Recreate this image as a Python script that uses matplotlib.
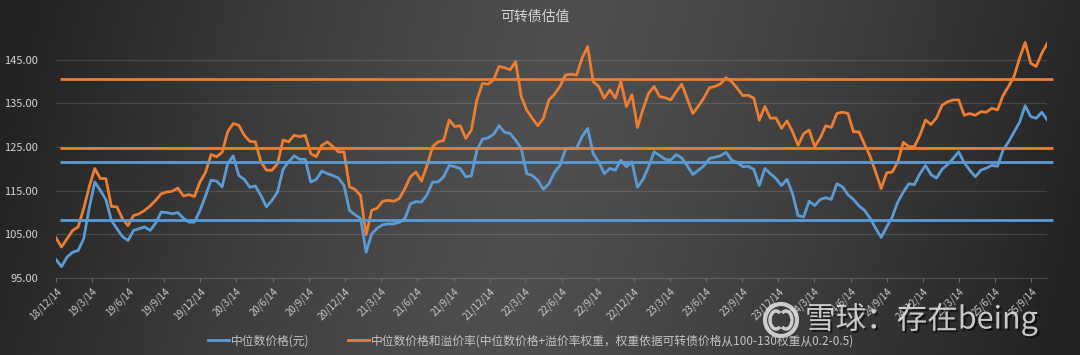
import numpy as np
import pandas as pd
import matplotlib
matplotlib.use("Agg")
import matplotlib.pyplot as plt
from matplotlib.patches import Circle, Arc
import matplotlib.patheffects as pe
from datetime import datetime

plt.rcParams['font.family'] = ['Noto Sans CJK SC', 'DejaVu Sans']

# ---------------- data ----------------
title = "可转债估值"
series_names = ["中位数价格(元)",
                "中位数价格和溢价率(中位数价格+溢价率权重，权重依据可转债价格从100-130权重从0.2-0.5)"]
start_date = "2018-12-14"
step_days = 14

median_price = [
    99.2, 97.6, 99.8, 100.9, 101.3, 104.0, 111.0, 117.0, 115.1, 113.0,
    108.2, 106.3, 104.5, 103.6, 105.9, 106.3, 106.7, 105.9, 107.6, 110.1,
    110.0, 109.7, 110.0, 108.7, 107.8, 107.8, 110.5, 113.8, 117.4, 117.2,
    115.9, 121.2, 123.0, 118.5, 117.6, 115.8, 116.1, 113.9, 111.3, 112.8,
    114.7, 119.9, 121.6, 123.0, 122.2, 122.2, 117.0, 117.6, 119.5, 118.9,
    118.5, 117.9, 116.2, 110.5, 109.5, 108.6, 100.9, 105.1, 106.4, 107.2,
    107.4, 107.4, 107.8, 108.6, 112.0, 112.5, 112.4, 114.1, 117.0, 117.0,
    118.2, 120.8, 120.5, 120.1, 118.2, 118.4, 124.3, 126.8, 127.1, 127.9,
    129.9, 128.4, 128.1, 126.6, 124.7, 118.9, 118.5, 117.4, 115.3, 116.6,
    119.2, 120.8, 124.5, 124.8, 124.7, 127.4, 129.3, 123.5, 121.6, 118.9,
    120.1, 119.7, 122.0, 120.5, 121.6, 115.8, 117.6, 120.5, 123.9, 123.1,
    122.2, 122.0, 123.3, 122.5, 120.7, 118.7, 119.7, 120.7, 122.4, 122.7,
    123.0, 123.8, 122.0, 121.5, 120.5, 120.6, 119.9, 116.2, 120.1, 118.9,
    117.8, 116.2, 117.6, 114.3, 109.3, 109.0, 112.6, 111.6, 113.0, 113.4,
    113.0, 116.6, 115.9, 114.1, 113.0, 111.5, 110.5, 108.7, 106.4, 104.3,
    106.7, 109.0, 112.4, 114.7, 116.6, 116.4, 118.9, 120.8, 118.7, 117.9,
    119.9, 121.0, 122.4, 123.9, 121.4, 119.7, 118.2, 119.7, 120.2, 120.8,
    120.6, 124.3, 126.2, 128.5, 130.7, 134.5, 132.0, 131.6, 133.0, 131.2,
]

price_premium = [
    104.2, 102.1, 104.0, 105.9, 106.7, 110.9, 115.9, 120.1, 117.8, 117.8,
    111.4, 111.3, 108.6, 107.0, 109.3, 109.7, 110.5, 111.5, 112.8, 114.3,
    114.7, 114.9, 115.6, 113.8, 114.1, 113.7, 117.0, 119.2, 123.3, 122.8,
    123.8, 128.5, 130.4, 130.0, 127.7, 126.3, 126.2, 121.6, 119.7, 119.7,
    121.2, 126.6, 126.2, 127.7, 127.4, 127.7, 123.5, 122.8, 125.4, 126.2,
    125.1, 123.9, 123.9, 115.9, 115.3, 113.9, 104.9, 110.5, 111.0, 112.6,
    112.8, 112.6, 113.2, 115.5, 118.2, 119.3, 117.2, 120.8, 125.1, 126.2,
    126.5, 131.2, 129.7, 129.9, 127.0, 128.9, 135.8, 139.6, 139.4, 140.4,
    143.5, 143.2, 142.7, 144.6, 136.6, 133.5, 131.6, 129.9, 131.6, 135.8,
    137.1, 138.9, 141.5, 141.7, 141.5, 145.4, 148.0, 140.0, 138.9, 136.2,
    138.1, 136.2, 140.0, 134.3, 137.0, 129.5, 133.7, 137.3, 138.9, 136.6,
    136.3, 135.8, 137.7, 139.4, 136.0, 132.7, 134.4, 136.3, 138.6, 138.9,
    139.5, 140.9, 140.0, 138.5, 136.8, 136.9, 136.2, 131.2, 134.3, 131.6,
    131.7, 129.3, 131.0, 128.5, 125.4, 128.1, 128.9, 125.1, 127.1, 129.9,
    129.5, 132.7, 133.0, 132.7, 128.5, 128.5, 125.6, 122.9, 119.3, 115.5,
    119.1, 119.3, 121.6, 126.1, 125.1, 125.1, 127.7, 131.2, 130.2, 131.7,
    134.6, 135.4, 135.8, 135.8, 132.3, 132.7, 132.3, 133.1, 133.0, 133.9,
    133.5, 136.8, 138.9, 141.2, 145.4, 149.0, 144.2, 143.5, 146.5, 148.8,
]

median_levels = [121.6, 108.2]
premium_levels = [140.6, 124.8]

tick_labels = ["18/12/14", "19/3/14", "19/6/14", "19/9/14", "19/12/14",
               "20/3/14", "20/6/14", "20/9/14", "20/12/14", "21/3/14",
               "21/6/14", "21/9/14", "21/12/14", "22/3/14", "22/6/14",
               "22/9/14", "22/12/14", "23/3/14", "23/6/14", "23/9/14",
               "23/12/14", "24/3/14", "24/6/14", "24/9/14", "24/12/14",
               "25/3/14", "25/6/14", "25/9/14"]
y_ticks = [95, 105, 115, 125, 135, 145]
watermark = "雪球：存在being"

# ---------------- figure ----------------
W, H = 1080, 355
fig = plt.figure(figsize=(W / 100, H / 100), dpi=100)

# gradient background
bg = fig.add_axes([0, 0, 1, 1], zorder=-10)
xx, yy = np.meshgrid(np.linspace(0, 1, 540), np.linspace(0, 1, 180))
w = xx + 0.08 * (yy - 0.5)
b = 0.14 + 0.17 * (1 - np.clip(np.abs(w - 0.5) * 2, 0, 1) ** 1.3)
bg.imshow(np.dstack([b, b, b]), aspect='auto', extent=[0, 1, 0, 1], origin='upper')
bg.set_axis_off()

BLUE = '#5b9bd5'
ORANGE = '#ed7d31'

dates = pd.to_datetime(start_date) + pd.to_timedelta(np.arange(len(median_price)) * step_days, unit='D')
tick_dates = [datetime.strptime(t, "%y/%m/%d") for t in tick_labels]

x_left, x_right = 56, 1047.3
y_top, y_bot = 38, 278
ax = fig.add_axes([x_left / W, 1 - y_bot / H, (x_right - x_left) / W, (y_bot - y_top) / H])
ax.set_facecolor('none')

l1, = ax.plot(dates, median_price, color=BLUE, lw=2.0, solid_joinstyle='round', zorder=3)
l2, = ax.plot(dates, price_premium, color=ORANGE, lw=2.0, solid_joinstyle='round', zorder=3)

h0 = dates[0] + pd.Timedelta(days=10)
h1 = dates[0] + pd.Timedelta(days=2520)
for lv in median_levels:
    ax.hlines(lv, h0, h1, color=BLUE, lw=2.0, zorder=4, clip_on=False)
for lv in premium_levels:
    ax.hlines(lv, h0, h1, color=ORANGE, lw=2.0, zorder=4, clip_on=False)

ax.set_xlim(dates[0], dates[-1])
ax.set_ylim(95, 150)
ax.set_yticks(y_ticks)
ax.set_yticklabels([f"{v:.2f}" for v in y_ticks])
ax.yaxis.grid(True, color='white', alpha=0.13, lw=0.9, zorder=1)
ax.set_axisbelow(True)

ax.set_xticks(tick_dates)
ax.set_xticklabels(tick_labels, rotation=45, ha='right', rotation_mode='anchor')

for s in ['top', 'right', 'left']:
    ax.spines[s].set_visible(False)
ax.spines['bottom'].set_color('white')
ax.spines['bottom'].set_alpha(0.15)
ax.spines['bottom'].set_linewidth(0.9)

ax.tick_params(axis='y', length=0, pad=13, labelsize=8, labelcolor='#d4d4d4')
ax.tick_params(axis='x', length=3, width=0.8, color='#6a6a6a', pad=3,
               labelsize=7, labelcolor='#c8c8c8')

# title
fig.text(535 / W, 1 - 17 / H, title, ha='center', va='center', fontsize=10, color='#d8d8d8')

# legend
fig.legend([l1, l2], series_names, loc='center', bbox_to_anchor=(531 / W, 1 - 341 / H),
           ncol=2, frameon=False, fontsize=8.5, labelcolor='#c4c4c4',
           handlelength=1.8, handletextpad=0.15, columnspacing=3.3)

# watermark
shadow = [pe.SimplePatchShadow(offset=(1.5, -1.5), shadow_rgbFace='black', alpha=0.5), pe.Normal()]
fig.text(805 / W, 1 - 319 / H, watermark, ha='left', va='center', fontsize=22,
         color=(0.9, 0.9, 0.9, 0.85), path_effects=shadow)
cx, cy = 781, 320
r = 16
circle = Circle((cx, H - cy), r, transform=None, fill=False, lw=3,
                edgecolor=(0.9, 0.9, 0.9, 0.85))
fig.patches.append(circle)
arc1 = Arc((cx - 5, H - cy), 12, 18, theta1=60, theta2=300, transform=None,
           lw=2.5, edgecolor=(0.9, 0.9, 0.9, 0.85))
arc2 = Arc((cx + 5, H - cy), 12, 18, theta1=240, theta2=120, transform=None,
           lw=2.5, edgecolor=(0.9, 0.9, 0.9, 0.85))
fig.patches.append(arc1)
fig.patches.append(arc2)

fig.savefig("out.png", dpi=100, facecolor='#303030')
